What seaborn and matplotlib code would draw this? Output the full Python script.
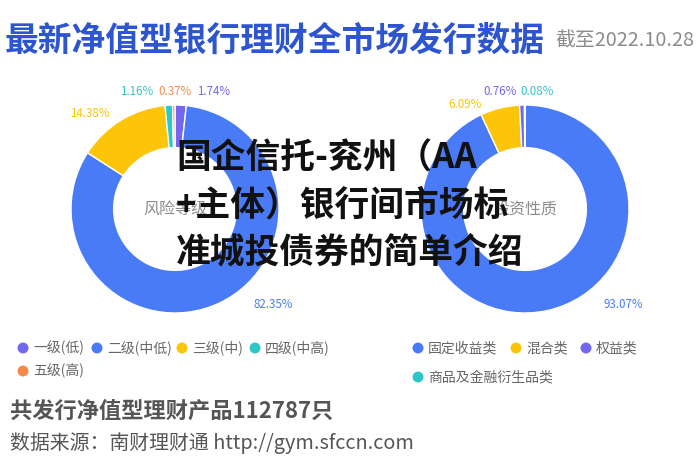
import matplotlib
matplotlib.use("Agg")
import matplotlib.pyplot as plt
import seaborn as sns

sns.set_theme(style="white")
plt.rcParams['font.family'] = ['Noto Sans CJK SC', 'DejaVu Sans']

# ---------------- data ----------------
risk_labels = ["一级(低)", "二级(中低)", "三级(中)", "四级(中高)", "五级(高)"]
risk_values = [1.74, 82.35, 14.38, 1.16, 0.37]

invest_labels = ["固定收益类", "混合类", "权益类", "商品及金融衍生品类"]
invest_values = [93.07, 6.09, 0.76, 0.08]

total_products = 112787

# ---------------- style ----------------
BLUE = "#4a7bf7"
YELLOW = "#fcc509"
PURPLE = "#7367f0"
TEAL = "#2ec7c9"
ORANGE = "#f7894a"
risk_colors = sns.color_palette([PURPLE, BLUE, YELLOW, TEAL, ORANGE])
invest_colors = sns.color_palette([BLUE, YELLOW, PURPLE, TEAL])

# label anchor positions (in donut radius units) for each slice label
risk_label_pos = [(0.37, 1.13), (0.94, -0.92), (-0.82, 0.92), (-0.37, 1.13), (0.0, 1.13)]
invest_label_pos = [(0.95, -0.92), (-0.58, 1.00), (-0.24, 1.13), (0.12, 1.13)]

W, H = 700, 465
fig = plt.figure(figsize=(7, 4.65), dpi=100)
fig.patch.set_facecolor("white")


def donut(cx, cy, r, values, colors, label_pos, center_text):
    ax = fig.add_axes([(cx - r) / W, 1 - (cy + r) / H, 2 * r / W, 2 * r / H])
    ax.pie(values, colors=colors, startangle=90, counterclock=False,
           radius=1, wedgeprops=dict(width=0.41, edgecolor="white", linewidth=1.0))
    ax.set_xlim(-1, 1)
    ax.set_ylim(-1, 1)
    ax.set_aspect("equal")
    ax.axis("off")
    for v, c, (lx, ly) in zip(values, colors, label_pos):
        ax.text(lx, ly, f"{v:.2f}%", color=c, fontsize=8.3,
                ha="center", va="center", clip_on=False)
    ax.text(0, 0, center_text, color="#8c8c8c", fontsize=11.5,
            ha="center", va="center")


donut(175, 209, 104, risk_values, risk_colors, risk_label_pos, "风险等级")
donut(525, 209, 104, invest_values, invest_colors, invest_label_pos, "投资性质")

# overlay axes in pixel coordinates
ov = fig.add_axes([0, 0, 1, 1], facecolor="none")
ov.set_xlim(0, W)
ov.set_ylim(H, 0)
ov.axis("off")

# title
ov.text(5, 40, "最新净值型银行理财全市场发行数据", color="#2d55cf",
        fontsize=24.3, fontweight="bold", ha="left", va="center")
ov.text(555, 41, "截至2022.10.28", color="#8c8c8c", fontsize=14.3,
        ha="left", va="center")

# legends
def legend_row(items, colors, xs, y):
    for name, c, x in zip(items, colors, xs):
        ov.scatter([x], [y], s=62, color=c, edgecolor="none", zorder=3)
        ov.text(x + 10, y, name, color="#666666", fontsize=10,
                ha="left", va="center")


legend_row(risk_labels[:4], risk_colors[:4], [23, 97, 182, 255], 348)
legend_row(risk_labels[4:], risk_colors[4:], [23], 371)
legend_row(invest_labels[:3], invest_colors[:3], [418, 516, 586], 348)
legend_row(invest_labels[3:], invest_colors[3:], [418], 377)

# footer
ov.text(10, 411, f"共发行净值型理财产品{total_products}只", color="#555555",
        fontsize=16, fontweight="bold", ha="left", va="center")
ov.text(10, 443, "数据来源：南财理财通 http://gym.sfccn.com", color="#555555",
        fontsize=14.3, ha="left", va="center")

# overlaid headline
headline = ["国企信托-兖州（AA", "+主体）银行间市场标", "准城投债券的简单介绍"]
for i, line in enumerate(headline):
    ov.text(176, 158 + 47 * i, line, color="#111111", fontsize=25,
            fontweight="black", ha="left", va="center", zorder=10)

fig.savefig("out.png", dpi=100, facecolor="white")
